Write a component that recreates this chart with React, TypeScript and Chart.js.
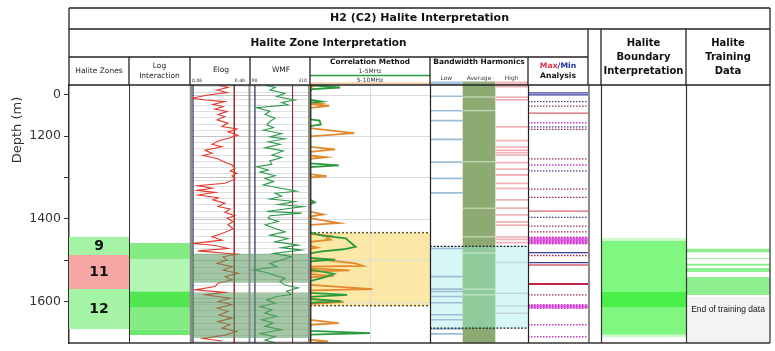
import { useEffect, useRef } from "react";
import { Chart, registerables } from "chart.js";

Chart.register(...registerables);

// ---------------- DATA ----------------
const depthTicks = [1100, 1200, 1300, 1400, 1500, 1600];
const depthTickLabels = ["0", "1200", "", "1400", "", "1600"];
const depthRange = [1077, 1699];

const haliteZoneLabels = ["9", "11", "12"];
const haliteZoneTop = [1443, 1487, 1569];
const haliteZoneBase = [1487, 1569, 1665];
const haliteZoneIsHalite = [true, false, true];

const logInteractionTop = [1458, 1497, 1575, 1614, 1667];
const logInteractionBase = [1497, 1575, 1614, 1667, 1680];
const logInteractionLevel = [2, 1, 4, 2, 3];

const logShadeTop = [1484, 1578];
const logShadeBase = [1554, 1687];

// [depth, Elog value]
const elogCurve = [
  [1077, 0.219], [1083, 0.275], [1089, 0.213], [1095, 0.27], [1101, 0.162], [1109, 0.071], [1113, 0.145], [1117, 0.258],
  [1124, 0.19], [1129, 0.247], [1135, 0.202], [1141, 0.27], [1148, 0.219], [1153, 0.258], [1161, 0.213], [1169, 0.275],
  [1177, 0.241], [1183, 0.326], [1190, 0.275], [1198, 0.332], [1204, 0.287], [1212, 0.219], [1220, 0.185], [1226, 0.241],
  [1234, 0.145], [1242, 0.185], [1247, 0.134], [1254, 0.213], [1263, 0.258], [1270, 0.298], [1278, 0.315], [1284, 0.287],
  [1290, 0.326], [1296, 0.298], [1304, 0.315], [1314, 0.258], [1320, 0.105], [1326, 0.185], [1331, 0.1], [1336, 0.202],
  [1342, 0.105], [1349, 0.219], [1354, 0.19], [1362, 0.258], [1370, 0.219], [1376, 0.287], [1384, 0.258], [1392, 0.315],
  [1398, 0.27], [1406, 0.304], [1414, 0.275], [1424, 0.304], [1435, 0.241], [1443, 0.185], [1451, 0.241], [1459, 0.079],
  [1464, 0.202], [1471, 0.275], [1477, 0.105], [1485, 0.326], [1491, 0.247], [1499, 0.27], [1507, 0.213], [1515, 0.298],
  [1523, 0.247], [1531, 0.332], [1539, 0.258], [1547, 0.298], [1555, 0.219], [1563, 0.202], [1571, 0.088], [1577, 0.258],
  [1583, 0.145], [1591, 0.287], [1599, 0.219], [1607, 0.298], [1615, 0.213], [1623, 0.275], [1631, 0.224], [1639, 0.298],
  [1647, 0.219], [1655, 0.287], [1663, 0.241], [1671, 0.326], [1680, 0.258], [1688, 0.134], [1694, 0.241],
];

// [depth, WMF value]
const wmfCurve = [
  [1077, 145], [1083, 182], [1089, 163], [1097, 218], [1105, 188], [1113, 255], [1119, 206], [1125, 230], [1132, 114], [1140, 163],
  [1148, 145], [1157, 182], [1165, 163], [1173, 151], [1180, 176], [1186, 139], [1194, 206], [1202, 163], [1207, 218], [1214, 157],
  [1220, 200], [1228, 145], [1236, 212], [1246, 170], [1252, 206], [1260, 163], [1268, 170], [1274, 114], [1282, 157], [1287, 127],
  [1296, 182], [1302, 145], [1310, 176], [1318, 139], [1324, 188], [1333, 261], [1338, 182], [1345, 206], [1352, 163], [1358, 255],
  [1365, 194], [1370, 285], [1376, 218], [1382, 151], [1386, 280], [1392, 163],
  [1398, 157], [1406, 194], [1414, 145], [1423, 182], [1431, 218], [1439, 163], [1447, 230], [1455, 182], [1463, 267], [1469, 206],
  [1475, 280], [1483, 176], [1491, 243], [1499, 206], [1507, 163], [1515, 188], [1523, 102], [1529, 151], [1535, 176], [1543, 218],
  [1551, 200], [1559, 218], [1566, 267], [1574, 224], [1582, 243], [1587, 188], [1595, 151], [1603, 182], [1611, 127], [1619, 170],
  [1627, 145], [1635, 188], [1643, 133], [1651, 176], [1659, 145], [1667, 206], [1676, 127], [1684, 182], [1692, 145], [1699, 188],
];

const elogCutoffs = [0.077, 0.311];
const wmfCutoffs = [108, 246];

const corrZoneTop = [1433];
const corrZoneBase = [1609];

// [depth, correlation] 5-10 MHz (orange)
const corr5to10 = [
  [1077, 0], [1079, 0.04], [1083, 0], [1118, 0], [1122, 0.09], [1124, 0.04], [1127, 0.16], [1132, 0],
  [1181, 0], [1193, 0.37], [1201, 0], [1226, 0], [1232, 0.21], [1238, 0], [1247, 0], [1251, 0.13], [1255, 0],
  [1292, 0], [1297, 0.14], [1300, 0], [1382, 0], [1389, 0.11], [1394, 0], [1398, 0], [1410, 0.24], [1414, 0],
  [1436, 0], [1441, 0.17], [1446, 0.14], [1450, 0.17], [1455, 0], [1465, 0], [1469, 0.06], [1472, 0],
  [1495, 0], [1507, 0.38], [1513, 0.44], [1515, 0], [1519, 0], [1524, 0.33], [1527, 0], [1533, 0], [1537, 0.2], [1541, 0],
  [1559, 0], [1569, 0.52], [1572, 0], [1592, 0], [1600, 0.28], [1605, 0], [1643, 0], [1651, 0.24], [1655, 0],
  [1691, 0], [1695, 0.15], [1699, 0],
];
// [depth, correlation] 1-5 MHz (green)
const corr1to5 = [
  [1077, 0], [1083, 0.25], [1087, 0.02], [1090, 0], [1112, 0], [1117, 0.1], [1120, 0], [1160, 0], [1163, 0.08],
  [1172, 0.09], [1176, 0], [1266, 0], [1271, 0.24], [1275, 0], [1353, 0], [1360, 0.04], [1364, 0],
  [1432, 0], [1440, 0.1], [1447, 0.3], [1455, 0.33], [1467, 0.38], [1473, 0.28], [1478, 0.1], [1483, 0],
  [1494, 0], [1498, 0.21], [1502, 0], [1522, 0], [1532, 0.2], [1541, 0.12], [1550, 0], [1578, 0], [1583, 0.31],
  [1588, 0], [1593, 0], [1598, 0.26], [1602, 0], [1670, 0], [1675, 0.5], [1679, 0], [1699, 0],
];

const bwZoneTop = [1466];
const bwZoneBase = [1663];
const bwLowLines = [1104, 1139, 1163, 1208, 1263, 1302, 1337, 1471, 1539, 1569, 1575, 1587, 1602, 1631, 1643, 1665, 1677];
const bwAverageLines = [1106, 1139, 1262, 1374, 1443, 1482, 1569, 1583];
const bwHighLines = [1081, 1106, 1113, 1178, 1211, 1227, 1234, 1240, 1246, 1264, 1280, 1294, 1314, 1326, 1354, 1374, 1390, 1407, 1415, 1443, 1449, 1457];
const bwHighFaintLines = [1505, 1579, 1610, 1627];

const maxMinDepth = [1096, 1101, 1117, 1128, 1145, 1168, 1178, 1184, 1255, 1270, 1284, 1328, 1348, 1381, 1396, 1417, 1431,
  1444, 1448, 1452, 1456, 1460, 1481, 1488, 1505, 1511, 1557, 1583, 1607, 1611, 1615, 1655, 1684];
const maxMinKind = ["min", "min", "minDot", "maxDot", "max", "mixDot", "minDot", "maxDot", "maxDot", "mixDot", "minDot", "maxDot", "maxDot",
  "max", "minDot", "maxDot", "maxDot", "mixDot", "mixDot", "mixDot", "mixDot", "mixDot", "min", "maxDot", "min", "max", "strong",
  "maxDot", "mixDot", "mixDot", "mixDot", "mixDot", "mixDot"];
const maxMinBandTop = [1444, 1607];
const maxMinBandBase = [1460, 1615];

const boundaryTop = [1446, 1453, 1576, 1612, 1679];
const boundaryBase = [1453, 1576, 1612, 1679, 1685];
const boundaryLevel = [0, 1, 2, 1, 0];

const trainingTop = [1472, 1494, 1508, 1518, 1540];
const trainingBase = [1480, 1496, 1513, 1528, 1583];
const trainingEndDepth = [1588];
const trainingEndLabelDepth = 1619;

// ---------------- LAYOUT / STYLE ----------------
const FONT = "DejaVu Sans";
const TRACKS = [
  { id: "xZones", w: 60, min: 0, max: 1 },
  { id: "xLogInt", w: 61, min: 0, max: 1 },
  { id: "xElog", w: 60, min: 0.06, max: 0.4 },
  { id: "xWmf", w: 60, min: 90, max: 310 },
  { id: "xCorr", w: 120, min: 0, max: 1 },
  { id: "xBw", w: 98, min: 0, max: 3 },
  { id: "xMm", w: 60, min: 0, max: 1 },
  { id: "xGap", w: 13, min: 0, max: 1 },
  { id: "xBound", w: 85, min: 0, max: 1 },
  { id: "xTrain", w: 84, min: 0, max: 1 },
];

const logIntColors: any = { 1: "#b4f6b4", 2: "#84ec84", 3: "#6ee86e", 4: "#52e652" };
const boundaryColors: any = { 0: "#cbfbcb", 1: "#80f780", 2: "#48f048" };
const mmStyles: any = {
  min: { c: "#3c3c9c", w: 1.3, d: [] },
  max: { c: "#d86070", w: 1.3, d: [] },
  minDot: { c: "#404088", w: 1.3, d: [1.5, 1.5] },
  maxDot: { c: "#903050", w: 1.3, d: [1.5, 1.5] },
  mixDot: { c: "#c040c0", w: 1.5, d: [1.5, 1.5] },
  strong: { c: "#c0204a", w: 2, d: [] },
};

function bandDs(xAxisID: string, x0: number, x1: number, top: number, base: number, color: string) {
  return {
    type: "line", xAxisID, yAxisID: "y",
    data: [{ x: x0, y: base }, { x: x0, y: top }, { x: x1, y: top }, { x: x1, y: base }],
    fill: "shape", backgroundColor: color, borderColor: "rgba(0,0,0,0)", borderWidth: 0,
    pointRadius: 0, tension: 0,
  };
}
function hLineDs(xAxisID: string, x0: number, x1: number, d: number, color: string, width: number, dash: number[] = []) {
  return {
    type: "line", xAxisID, yAxisID: "y",
    data: [{ x: x0, y: d }, { x: x1, y: d }],
    borderColor: color, borderWidth: width, borderDash: dash, pointRadius: 0, fill: false, tension: 0,
  };
}
function vLineDs(xAxisID: string, v: number, color: string, width: number) {
  return {
    type: "line", xAxisID, yAxisID: "y",
    data: [{ x: v, y: depthRange[0] }, { x: v, y: depthRange[1] }],
    borderColor: color, borderWidth: width, pointRadius: 0, fill: false, tension: 0,
  };
}
function curveDs(xAxisID: string, pts: number[][], color: string, width: number) {
  return {
    type: "line", xAxisID, yAxisID: "y",
    data: pts.map(([d, v]) => ({ x: v, y: d })),
    borderColor: color, borderWidth: width, pointRadius: 0, fill: false, tension: 0,
  };
}

function buildDatasets() {
  const ds: any[] = [];
  haliteZoneTop.forEach((t, i) =>
    ds.push(bandDs("xZones", 0, 1, t, haliteZoneBase[i], haliteZoneIsHalite[i] ? "#a5f3a5" : "#f7a7a3")));
  logInteractionTop.forEach((t, i) =>
    ds.push(bandDs("xLogInt", 0, 1, t, logInteractionBase[i], logIntColors[logInteractionLevel[i]])));
  corrZoneTop.forEach((t, i) => ds.push(bandDs("xCorr", 0, 1, t, corrZoneBase[i], "#fbe7a6")));
  ds.push(bandDs("xBw", 1, 2, depthRange[0], depthRange[1], "#8daa72"));
  bwZoneTop.forEach((t, i) => {
    ds.push(bandDs("xBw", 0, 1, t, bwZoneBase[i], "#d6f7f5"));
    ds.push(bandDs("xBw", 2, 3, t, bwZoneBase[i], "#d6f7f5"));
    ds.push(bandDs("xBw", 1, 2, t, bwZoneBase[i], "#8fcb9b"));
  });
  maxMinBandTop.forEach((t, i) => ds.push(bandDs("xMm", 0, 1, t, maxMinBandBase[i], "#f27cf2")));
  boundaryTop.forEach((t, i) => ds.push(bandDs("xBound", 0, 1, t, boundaryBase[i], boundaryColors[boundaryLevel[i]])));
  trainingEndDepth.forEach((t) => ds.push(bandDs("xTrain", 0, 1, t, depthRange[1], "#f3f3f3")));
  trainingTop.forEach((t, i) => ds.push(bandDs("xTrain", 0, 1, t, trainingBase[i], "#8eef8e")));

  ds.push({ type: "line", xAxisID: "xElog", yAxisID: "y", data: [], gridAnchor: true, pointRadius: 0 });

  bwLowLines.forEach((d) => ds.push(hLineDs("xBw", 0, 1, d, "#9dbdd7", 1.6)));
  bwAverageLines.forEach((d) => ds.push(hLineDs("xBw", 1, 2, d, "rgba(235,245,225,0.75)", 1)));
  bwHighLines.forEach((d) => ds.push(hLineDs("xBw", 2, 3, d, "#f2b4b9", 1.8)));
  bwHighFaintLines.forEach((d) => ds.push(hLineDs("xBw", 2, 3, d, "#c4d6d6", 1.5)));
  maxMinDepth.forEach((d, i) => {
    const st = mmStyles[maxMinKind[i]];
    ds.push(hLineDs("xMm", 0, 1, d, st.c, st.w, st.d));
  });
  corrZoneTop.forEach((t, i) => {
    ds.push(hLineDs("xCorr", 0, 1, t, "#5a5030", 1.5, [2, 2]));
    ds.push(hLineDs("xCorr", 0, 1, corrZoneBase[i], "#5a5030", 1.5, [2, 2]));
  });
  bwZoneTop.forEach((t, i) => {
    ds.push(hLineDs("xBw", 0, 3, t, "#222", 1.2, [2, 1.5]));
    ds.push(hLineDs("xBw", 0, 3, bwZoneBase[i], "#222", 1.2, [2, 1.5]));
  });
  ds.push(vLineDs("xElog", elogCutoffs[0], "#1c2c5c", 1.2));
  ds.push(vLineDs("xElog", elogCutoffs[1], "#9a3030", 1));
  ds.push(vLineDs("xWmf", wmfCutoffs[0], "#1c2c5c", 1.2));
  ds.push(vLineDs("xWmf", wmfCutoffs[1], "#8a2a2a", 1));

  ds.push(curveDs("xElog", elogCurve, "#e23a2e", 1.1));
  ds.push(curveDs("xWmf", wmfCurve, "#2b9a4a", 1.1));
  ds.push(curveDs("xCorr", corr5to10, "#e3892d", 1.8));
  ds.push(curveDs("xCorr", corr1to5, "#2a9a3c", 1.8));

  logShadeTop.forEach((t, i) => {
    ds.push(bandDs("xElog", 0.06, 0.4, t, logShadeBase[i], "rgba(88,153,93,0.55)"));
    ds.push(bandDs("xWmf", 90, 310, t, logShadeBase[i], "rgba(88,153,93,0.55)"));
  });

  ds.forEach((d, i) => { d.order = -i; });
  return ds;
}

// ---------------- DRAW HELPERS ----------------
function seg(ctx: any, x0: number, y0: number, x1: number, y1: number) {
  ctx.beginPath(); ctx.moveTo(x0, y0); ctx.lineTo(x1, y1); ctx.stroke();
}
function txt(ctx: any, s: string, x: number, y: number, font: string, color: string, align = "center") {
  ctx.font = font; ctx.fillStyle = color; ctx.textAlign = align; ctx.textBaseline = "middle"; ctx.fillText(s, x, y);
}

function drawGrids(chart: any) {
  const { ctx, chartArea: a } = chart;
  const y = chart.scales.y;
  const xe = chart.scales.xElog, xw = chart.scales.xWmf, xc = chart.scales.xCorr;
  ctx.save();
  ctx.lineWidth = 1;
  for (let d = 1080; d < depthRange[1]; d += 15) {
    const py = Math.round(y.getPixelForValue(d)) + 0.5;
    ctx.strokeStyle = "#dedede";
    seg(ctx, xe.left, py, xw.right, py);
  }
  depthTicks.forEach((d) => {
    const py = Math.round(y.getPixelForValue(d)) + 0.5;
    ctx.strokeStyle = "#c4c4c4";
    seg(ctx, xe.left, py, xw.right, py);
    ctx.strokeStyle = "#dcdcdc";
    seg(ctx, xc.left, py, xc.right, py);
  });
  const mx = Math.round(xc.getPixelForValue(0.5)) + 0.5;
  ctx.strokeStyle = "#dcdcdc";
  seg(ctx, mx, a.top, mx, a.bottom);
  ctx.restore();
}

function drawBorders(chart: any) {
  const { ctx, chartArea: a } = chart;
  const s = chart.scales;
  const t = a.top, b = a.bottom;
  ctx.save();
  ctx.strokeStyle = "#333"; ctx.lineWidth = 1;
  seg(ctx, s.xZones.right + 0.5, t, s.xZones.right + 0.5, b);
  ctx.strokeStyle = "#8c8c8c"; ctx.lineWidth = 2.5;
  seg(ctx, s.xElog.left + 1, t, s.xElog.left + 1, b);
  ctx.lineWidth = 2;
  seg(ctx, s.xElog.right - 0.5, t, s.xElog.right - 0.5, b);
  seg(ctx, s.xWmf.right - 1, t, s.xWmf.right - 1, b);
  ctx.strokeStyle = "#222"; ctx.lineWidth = 1.2;
  seg(ctx, s.xCorr.left + 0.8, t, s.xCorr.left + 0.8, b);
  seg(ctx, s.xCorr.right + 0.5, t, s.xCorr.right + 0.5, b);
  seg(ctx, s.xBw.right + 0.5, t, s.xBw.right + 0.5, b);
  ctx.strokeStyle = "#8c8c8c"; ctx.lineWidth = 2;
  seg(ctx, s.xMm.right + 1, t, s.xMm.right + 1, b);
  ctx.strokeStyle = "#333"; ctx.lineWidth = 1.2;
  seg(ctx, s.xGap.right + 0.5, t, s.xGap.right + 0.5, b);
  seg(ctx, s.xBound.right + 0.5, t, s.xBound.right + 0.5, b);
  ctx.strokeStyle = "#555"; ctx.lineWidth = 1.5;
  seg(ctx, a.right, t, a.right, b);
  ctx.strokeStyle = "#333"; ctx.lineWidth = 1.5;
  seg(ctx, a.left, b, a.right, b);

  // zone labels
  const y = s.y;
  const zx = (s.xZones.left + s.xZones.right) / 2;
  haliteZoneLabels.forEach((lab, i) => {
    const py = y.getPixelForValue((haliteZoneTop[i] + haliteZoneBase[i]) / 2);
    txt(ctx, lab, zx, py + 0.5, `bold 14px ${FONT}`, "#111");
  });
  txt(ctx, "End of training data", (s.xTrain.left + s.xTrain.right) / 2, y.getPixelForValue(trainingEndLabelDepth),
    `8.5px "Liberation Sans"`, "#111");
  ctx.restore();
}

function drawHeader(chart: any) {
  const { ctx, chartArea: a } = chart;
  const s = chart.scales;
  const L = a.left, R = a.right, T = a.top;
  const y0 = 8, y1 = 29, y2 = 57;
  ctx.save();
  // strips / header colour keys
  const bw = s.xBw;
  const stripTop = T - 3.5;
  ctx.fillStyle = "#a9c4dc"; ctx.fillRect(bw.getPixelForValue(0), stripTop, bw.getPixelForValue(1) - bw.getPixelForValue(0), 3.5);
  ctx.fillStyle = "#8fac7a"; ctx.fillRect(bw.getPixelForValue(1), stripTop, bw.getPixelForValue(2) - bw.getPixelForValue(1), 3.5);
  ctx.fillStyle = "#f2bcc0"; ctx.fillRect(bw.getPixelForValue(2), stripTop, bw.getPixelForValue(3) - bw.getPixelForValue(2), 3.5);
  ctx.strokeStyle = "#2a9a3c"; ctx.lineWidth = 1.5;
  seg(ctx, s.xCorr.left, 75.5, s.xCorr.right, 75.5);
  ctx.strokeStyle = "#f4c8a0"; ctx.lineWidth = 2;
  seg(ctx, s.xCorr.left, T - 1.5, s.xCorr.right, T - 1.5);

  ctx.strokeStyle = "#222"; ctx.lineWidth = 1.3;
  seg(ctx, L, y0, R, y0);
  seg(ctx, L, y1, R, y1);
  seg(ctx, L, y2, s.xMm.right, y2);
  seg(ctx, L, T, R, T);
  seg(ctx, L, y0, L, T);
  seg(ctx, R, y0, R, T);
  ["xZones", "xLogInt", "xElog", "xWmf", "xCorr", "xBw"].forEach((id) => seg(ctx, s[id].right, y2, s[id].right, T));
  ["xMm", "xGap", "xBound"].forEach((id) => seg(ctx, s[id].right, y1, s[id].right, T));

  const c = (id: string) => (s[id].left + s[id].right) / 2;
  txt(ctx, "H2 (C2) Halite Interpretation", (L + R) / 2, 18.5, `bold 11px ${FONT}`, "#111");
  txt(ctx, "Halite Zone Interpretation", (L + s.xMm.right) / 2, 43, `bold 10.5px ${FONT}`, "#111");
  ["Halite", "Boundary", "Interpretation"].forEach((w, i) => txt(ctx, w, c("xBound"), 43 + i * 14, `bold 10px ${FONT}`, "#111"));
  ["Halite", "Training", "Data"].forEach((w, i) => txt(ctx, w, c("xTrain"), 43 + i * 14, `bold 10px ${FONT}`, "#111"));

  const small = `7.5px ${FONT}`;
  txt(ctx, "Halite Zones", c("xZones"), 71, small, "#222");
  txt(ctx, "Log", c("xLogInt"), 66.5, small, "#222");
  txt(ctx, "Interaction", c("xLogInt"), 76, small, "#222");
  txt(ctx, "Elog", c("xElog") + 1, 70, small, "#222");
  txt(ctx, "WMF", c("xWmf") + 1, 70, small, "#222");
  const tiny = `4.6px ${FONT}`;
  txt(ctx, "0.06", s.xElog.left + 2, 80.5, tiny, "#333", "left");
  txt(ctx, "0.40", s.xElog.right - 5, 80.5, tiny, "#333", "right");
  txt(ctx, "90", s.xWmf.left + 1.5, 80.5, tiny, "#333", "left");
  txt(ctx, "310", s.xWmf.right - 3, 80.5, tiny, "#333", "right");

  txt(ctx, "Correlation Method", c("xCorr"), 62.5, `bold 7.3px ${FONT}`, "#111");
  txt(ctx, "1-5MHz", c("xCorr"), 71, `6px ${FONT}`, "#333");
  txt(ctx, "5-10MHz", c("xCorr"), 80, `6px ${FONT}`, "#333");

  txt(ctx, "Bandwidth Harmonics", c("xBw"), 62.5, `bold 7.4px ${FONT}`, "#111");
  const sub = `6px ${FONT}`;
  txt(ctx, "Low", bw.getPixelForValue(0.5), 78, sub, "#444");
  txt(ctx, "Average", bw.getPixelForValue(1.5), 78, sub, "#444");
  txt(ctx, "High", bw.getPixelForValue(2.5), 78, sub, "#444");

  const mmFont = `bold 7.7px ${FONT}`;
  ctx.font = mmFont;
  const wMax = ctx.measureText("Max").width;
  const wRest = ctx.measureText("/Min").width;
  const sx = c("xMm") - (wMax + wRest) / 2;
  txt(ctx, "Max", sx, 66, mmFont, "#e0304a", "left");
  txt(ctx, "/Min", sx + wMax, 66, mmFont, "#2030a0", "left");
  txt(ctx, "Analysis", c("xMm"), 76.5, mmFont, "#111");

  // depth axis title
  ctx.save();
  ctx.translate(18, 130);
  ctx.rotate(-Math.PI / 2);
  txt(ctx, "Depth (m)", 0, 0, `13px ${FONT}`, "#333");
  ctx.restore();
  ctx.restore();
}

const decorPlugin = {
  id: "wellDecor",
  beforeDatasetDraw(chart: any, args: any) {
    const d = chart.data.datasets[args.index];
    if (d && d.gridAnchor) drawGrids(chart);
  },
  afterDatasetsDraw(chart: any) { drawBorders(chart); },
  afterDraw(chart: any) { drawHeader(chart); },
};

function buildConfig(): any {
  const scales: any = {
    y: {
      type: "linear", axis: "y", position: "left", reverse: true,
      min: depthRange[0], max: depthRange[1],
      afterBuildTicks: (sc: any) => { sc.ticks = depthTicks.map((v) => ({ value: v })); },
      afterFit: (sc: any) => { sc.width = 69; sc.paddingTop = 0; sc.paddingBottom = 0; },
      ticks: {
        autoSkip: false, padding: 3, color: "#333", font: { family: FONT, size: 12.5 },
        callback: (v: any) => { const i = depthTicks.indexOf(Number(v)); return i >= 0 ? depthTickLabels[i] : ""; },
      },
      grid: { display: true, drawOnChartArea: false, drawTicks: true, tickLength: 5, color: "#333" },
      border: { display: true, color: "#333", width: 1.5 },
    },
  };
  TRACKS.forEach((t, i) => {
    scales[t.id] = {
      type: "linear", axis: "x", position: "bottom", stack: "tracks", stackWeight: t.w, weight: i,
      min: t.min, max: t.max, display: true,
      ticks: { display: false }, grid: { display: false, drawTicks: false }, border: { display: false },
      title: { display: false },
    };
  });
  return {
    type: "line",
    data: { datasets: buildDatasets() },
    options: {
      responsive: false, animation: false, devicePixelRatio: 1, events: [],
      layout: { padding: { top: 85, right: 5, bottom: 8, left: 0 } },
      plugins: { legend: { display: false }, tooltip: { enabled: false }, title: { display: false } },
      elements: { point: { radius: 0 }, line: { tension: 0 } },
      font: { family: FONT },
      scales,
    },
    plugins: [decorPlugin],
  };
}

export default function App() {
  const ref = useRef<HTMLCanvasElement>(null);
  useEffect(() => {
    if (!ref.current) return;
    const chart = new Chart(ref.current, buildConfig());
    return () => chart.destroy();
  }, []);
  return (
    <div style={{ position: "absolute", left: 0, top: 0, width: 775, height: 351, background: "#fff" }}>
      <canvas ref={ref} width={775} height={351} style={{ display: "block", width: 775, height: 351 }} />
    </div>
  );
}
